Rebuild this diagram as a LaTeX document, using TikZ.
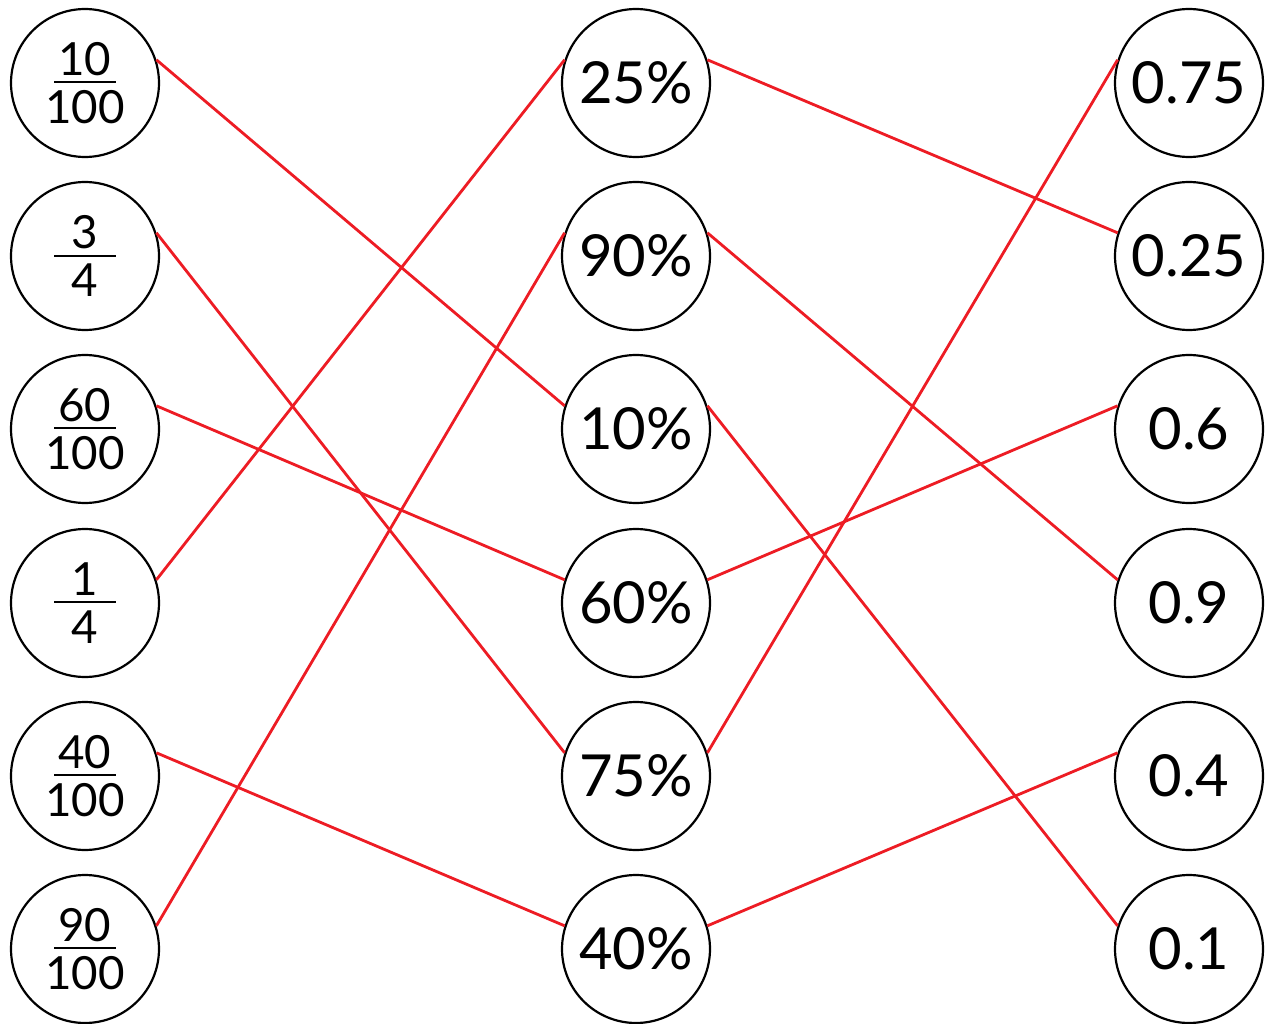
\documentclass[tikz,border=0pt]{standalone}
\usepackage{amsmath}
\usepackage{fontspec}
\setmainfont{Lato}
\usepackage{tikz}
\usetikzlibrary{positioning}
\usepackage{xcolor}
\definecolor{matchred}{RGB}{237,28,36}
\newcommand{\fr}[2]{$\vcenter{\offinterlineskip\hbox to 1.24cm{\hss#1\hss}\kern3.4pt\hrule height 1pt\kern4.2pt\hbox to 1.24cm{\hss#2\hss}}$}
\begin{document}
\begin{tikzpicture}[x=0.02cm,y=-0.02cm,
		ball/.style={shape=circle,draw=black,line width=1.25pt,minimum size=2.96cm,inner sep=0pt},
		fracball/.style={ball,font=\fontsize{26}{28}\selectfont},
		bigball/.style={ball,font=\fontsize{33}{36}\selectfont},
		match/.style={draw=matchred,line width=1.6pt}]
		\useasboundingbox (0,0) rectangle (1269,1024);
		
		\node[fracball] (f1) at (85, 83)     {\fr{10}{100}};
		\node[fracball] (f2) at (85, 256)    {\fr{3}{4}};
		\node[fracball] (f3) at (85, 429)    {\fr{60}{100}};
		\node[fracball] (f4) at (85, 603)    {\fr{1}{4}};
		\node[fracball] (f5) at (85, 776)    {\fr{40}{100}};
		\node[fracball] (f6) at (85, 949)    {\fr{90}{100}};
		
		\node[bigball] (p1) at (636, 83)     {25\%};
		\node[bigball] (p2) at (636, 256)    {90\%};
		\node[bigball] (p3) at (636, 429)    {10\%};
		\node[bigball] (p4) at (636, 603)    {60\%};
		\node[bigball] (p5) at (636, 776)    {75\%};
		\node[bigball] (p6) at (636, 949)    {40\%};
		
		\node[bigball] (d1) at (1189, 83)    {0.75};
		\node[bigball] (d2) at (1189, 256)   {0.25};
		\node[bigball] (d3) at (1189, 429)   {0.6};
		\node[bigball] (d4) at (1189, 603)   {0.9};
		\node[bigball] (d5) at (1189, 776)   {0.4};
		\node[bigball] (d6) at (1189, 949)   {0.1};
		
		
		\path[match] (f1.18) edge (p3.162);
		\path[match] (f2.18) edge (p5.162);
		\path[match] (f3.18) edge (p4.162);
		\path[match] (f4.18) edge (p1.162);
		\path[match] (f5.18) edge (p6.162);
		\path[match] (f6.18) edge (p2.162);
		
		\path[match] (p1.18) edge (d2.162);
		\path[match] (p2.18) edge (d4.162);
		\path[match] (p3.18) edge (d6.162);
		\path[match] (p4.18) edge (d3.162);
		\path[match] (p5.18) edge (d1.162);
		\path[match] (p6.18) edge (d5.162);
		\end{tikzpicture}
\end{document}
